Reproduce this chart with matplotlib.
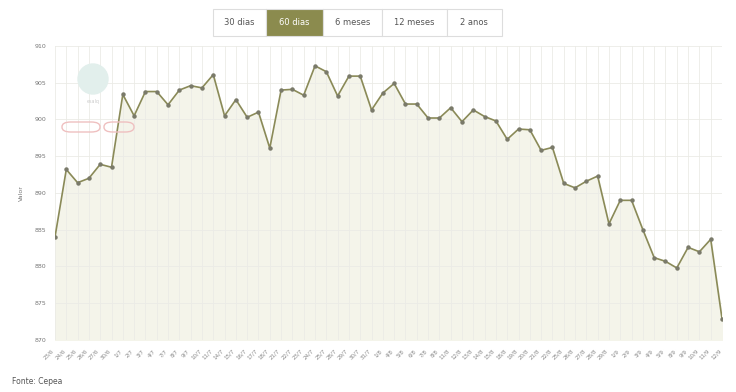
import matplotlib.pyplot as plt
from matplotlib.patches import FancyBboxPatch, Rectangle, Circle

# preço diário, últimos 60 pregões
datas = [
    "23/6", "24/6", "25/6", "26/6", "27/6", "30/6",
    "1/7", "2/7", "3/7", "4/7", "7/7", "8/7", "9/7", "10/7", "11/7",
    "14/7", "15/7", "16/7", "17/7", "18/7", "21/7", "22/7", "23/7",
    "24/7", "25/7", "28/7", "29/7", "30/7", "31/7",
    "1/8", "4/8", "5/8", "6/8", "7/8", "8/8", "11/8", "12/8", "13/8",
    "14/8", "15/8", "18/8", "19/8", "20/8", "21/8", "22/8", "25/8",
    "26/8", "27/8", "28/8", "29/8",
    "1/9", "2/9", "3/9", "4/9", "5/9", "8/9", "9/9", "10/9", "11/9", "12/9",
]
valores = [
    884.0, 893.2, 891.4, 892.0, 893.9, 893.5, 903.4, 900.5, 903.8, 903.8,
    902.0, 904.0, 904.6, 904.3, 906.1, 900.5, 902.7, 900.3, 901.0, 896.1,
    904.0, 904.1, 903.3, 907.3, 906.5, 903.2, 905.9, 905.9, 901.3, 903.6,
    904.9, 902.1, 902.1, 900.2, 900.2, 901.6, 899.7, 901.3, 900.4, 899.8,
    897.3, 898.7, 898.6, 895.8, 896.2, 891.3, 890.7, 891.6, 892.3, 885.8,
    889.0, 889.0, 885.0, 881.2, 880.7, 879.8, 882.6, 882.0, 883.7, 872.9,
]
y_ticks = [870, 875, 880, 885, 890, 895, 900, 905, 910]
botoes = ["30 dias", "60 dias", "6 meses", "12 meses", "2 anos"]
selecionado = "60 dias"

fig = plt.figure(figsize=(7.36, 3.92), dpi=100)
ax = fig.add_axes([0.0747, 0.1327, 0.9063, 0.75])

x = list(range(len(valores)))
ax.fill_between(x, valores, 870, color="#f4f4ea", zorder=1)
ax.plot(x, valores, color="#8a8a58", lw=1.2, zorder=3)
ax.plot(x, valores, "o", color="#7a7a6a", ms=2.2, zorder=4)

ax.set_xlim(0, len(valores) - 1)
ax.set_ylim(870, 910)
ax.set_yticks(y_ticks)
ax.set_yticklabels([str(v) for v in y_ticks], fontsize=4.5, color="#777777")
ax.set_xticks(x)
ax.set_xticklabels(datas, rotation=45, ha="right", fontsize=4, color="#888888")
ax.tick_params(length=0, pad=6)
ax.grid(True, color="#ebebe6", lw=0.6, zorder=0)
for s in ax.spines.values():
    s.set_visible(False)
ax.set_ylabel("Valor", fontsize=4.5, color="#777777", labelpad=8)

# marca d'água Cepea
ax.add_patch(Circle((93, 313), 15, transform=None, color="#e2efec",
                    zorder=2))
fig.text(93 / 736, 1 - 102 / 392, "esalq", fontsize=3.5, color="#cccccc",
         ha="center", va="center")
for x0, x1 in [(62, 100), (104, 134)]:
    fig.patches.append(FancyBboxPatch(
        (x0 / 736, 1 - 132 / 392), (x1 - x0) / 736, 10 / 392,
        boxstyle="round,pad=0,rounding_size=0.012", transform=fig.transFigure,
        fill=False, ec="#efc0c0", lw=1.0))

# seletor de período
bordas = [212.7, 266, 322.7, 381.7, 446.7, 501.7]
y0, y1 = 9, 35.5
for i, nome in enumerate(botoes):
    l, r = bordas[i], bordas[i + 1]
    ativo = nome == selecionado
    fig.patches.append(Rectangle(
        (l / 736, 1 - y1 / 392), (r - l) / 736, (y1 - y0) / 392,
        transform=fig.transFigure, fc="#8b8b4e" if ativo else "white",
        ec="#dddddd", lw=0.8))
    fig.text((l + r) / 2 / 736, 1 - (y0 + y1) / 2 / 392, nome,
             fontsize=6, color="white" if ativo else "#555555",
             ha="center", va="center")

fig.text(12 / 736, 1 - 382 / 392, "Fonte: Cepea", fontsize=5.5,
         color="#555555", ha="left", va="center")

fig.savefig("out.png", dpi=100, facecolor="white")
